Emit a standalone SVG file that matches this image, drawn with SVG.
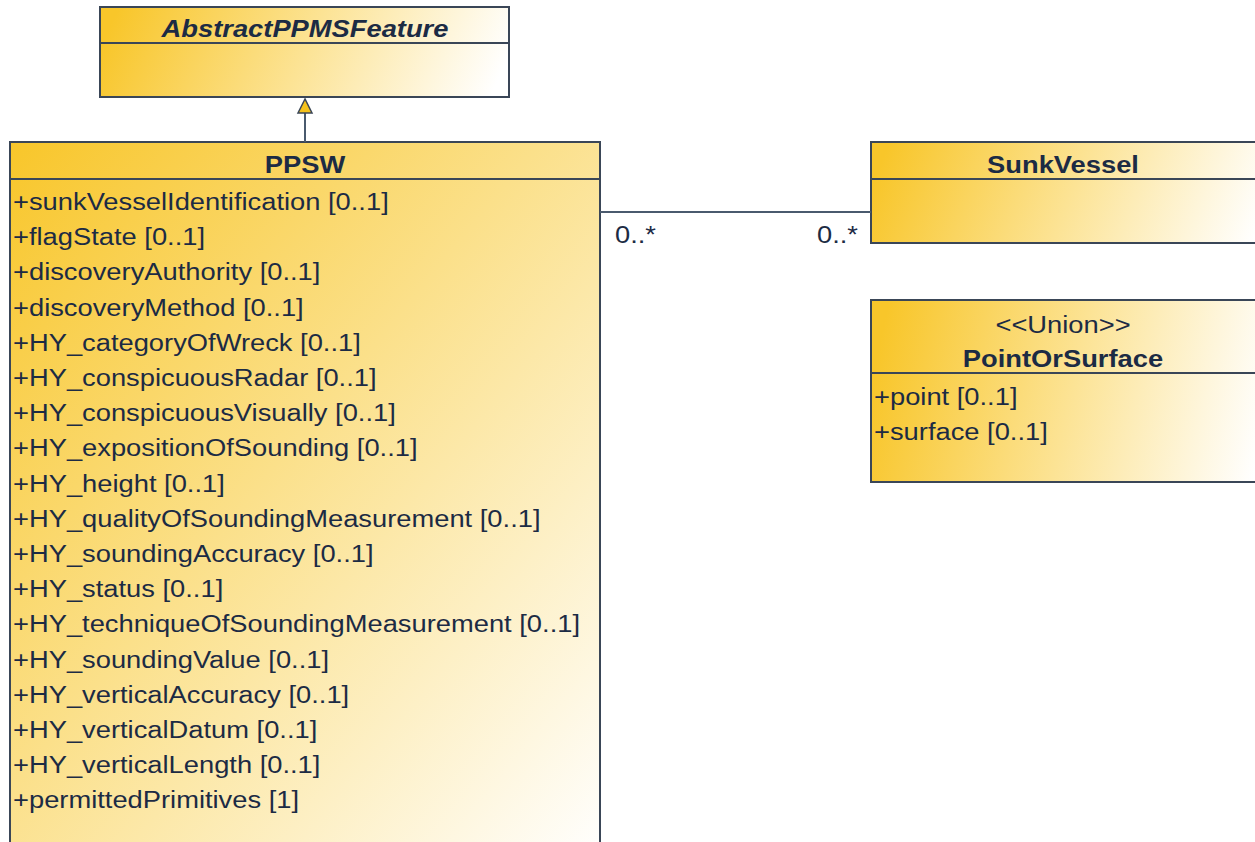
<svg xmlns="http://www.w3.org/2000/svg" width="1255" height="842" viewBox="0 0 1255 842">
<defs>
<linearGradient id="g" x1="0" y1="0" x2="1" y2="1">
<stop offset="0" stop-color="#F8C62A"/>
<stop offset="0.45" stop-color="#FBE08A"/>
<stop offset="1" stop-color="#FFFFFF"/>
</linearGradient>
<linearGradient id="gh" x1="0" y1="0.45" x2="1" y2="0.55">
<stop offset="0" stop-color="#F8C62A"/>
<stop offset="0.5" stop-color="#FCE394"/>
<stop offset="1" stop-color="#FFFFFF"/>
</linearGradient>
<style>
.box{fill:url(#gh);stroke:#3a4657;stroke-width:2}
.tall{fill:url(#g);stroke:#3a4657;stroke-width:2}
.div{stroke:#3a4657;stroke-width:2}
.t{fill:#1c2b44}
.title{font-size:24.5px;font-weight:bold;text-anchor:middle}
.attr{font-size:24.5px}
.conn{stroke:#4a5a6e;stroke-width:2;fill:none}
</style>
</defs>
<rect width="1255" height="842" fill="#ffffff"/>
<g font-family="'Liberation Sans', Arial, Helvetica, sans-serif">
<g id="AbstractPPMSFeature">
<rect class="box" x="100" y="7" width="409" height="90"/>
<line class="div" x1="100" y1="43" x2="509" y2="43"/>
<g transform="translate(305,0) scale(1.115,1)">
<text class="t title" x="0" y="37" font-style="italic">AbstractPPMSFeature</text>
</g>
</g>
<g id="PPSW">
<rect class="tall" x="10" y="142" width="590" height="720"/>
<line class="div" x1="10" y1="179" x2="600" y2="179"/>
<g transform="translate(305,0) scale(1.115,1)">
<text class="t title" x="0" y="173">PPSW</text>
</g>
<g class="t attr" transform="translate(13,2.5) scale(1.115,1)">
<text x="0" y="207.5">+sunkVesselIdentification [0..1]</text>
<text x="0" y="242.7">+flagState [0..1]</text>
<text x="0" y="277.9">+discoveryAuthority [0..1]</text>
<text x="0" y="313.1">+discoveryMethod [0..1]</text>
<text x="0" y="348.3">+HY_categoryOfWreck [0..1]</text>
<text x="0" y="383.5">+HY_conspicuousRadar [0..1]</text>
<text x="0" y="418.7">+HY_conspicuousVisually [0..1]</text>
<text x="0" y="453.9">+HY_expositionOfSounding [0..1]</text>
<text x="0" y="489.1">+HY_height [0..1]</text>
<text x="0" y="524.3">+HY_qualityOfSoundingMeasurement [0..1]</text>
<text x="0" y="559.5">+HY_soundingAccuracy [0..1]</text>
<text x="0" y="594.7">+HY_status [0..1]</text>
<text x="0" y="629.9">+HY_techniqueOfSoundingMeasurement [0..1]</text>
<text x="0" y="665.1">+HY_soundingValue [0..1]</text>
<text x="0" y="700.3">+HY_verticalAccuracy [0..1]</text>
<text x="0" y="735.5">+HY_verticalDatum [0..1]</text>
<text x="0" y="770.7">+HY_verticalLength [0..1]</text>
<text x="0" y="805.9">+permittedPrimitives [1]</text>
</g>
</g>
<g id="SunkVessel">
<rect class="box" x="871" y="142" width="400" height="101"/>
<line class="div" x1="871" y1="179" x2="1271" y2="179"/>
<g transform="translate(1063,0) scale(1.115,1)">
<text class="t title" x="0" y="173">SunkVessel</text>
</g>
</g>
<g id="PointOrSurface">
<rect class="box" x="871" y="300" width="400" height="182"/>
<line class="div" x1="871" y1="373" x2="1271" y2="373"/>
<g transform="translate(1063,0) scale(1.115,1)">
<text class="t" x="0" y="333" font-size="24.5" text-anchor="middle">&lt;&lt;Union&gt;&gt;</text>
<text class="t title" x="0" y="367">PointOrSurface</text>
</g>
<g class="t attr" transform="translate(874,0) scale(1.115,1)">
<text x="0" y="405">+point [0..1]</text>
<text x="0" y="440">+surface [0..1]</text>
</g>
</g>
<g id="connectors">
<line class="conn" x1="305" y1="113" x2="305" y2="142"/>
<polygon points="305,99 298,113 312,113" fill="#F5C21C" stroke="#3a4657" stroke-width="1.5"/>
<line class="conn" x1="600" y1="212" x2="871" y2="212"/>
<g class="t attr" transform="translate(615,0) scale(1.115,1)">
<text x="0" y="243">0..*</text>
</g>
<g class="t attr" transform="translate(817,0) scale(1.115,1)">
<text x="0" y="243">0..*</text>
</g>
</g>
</g>
</svg>
